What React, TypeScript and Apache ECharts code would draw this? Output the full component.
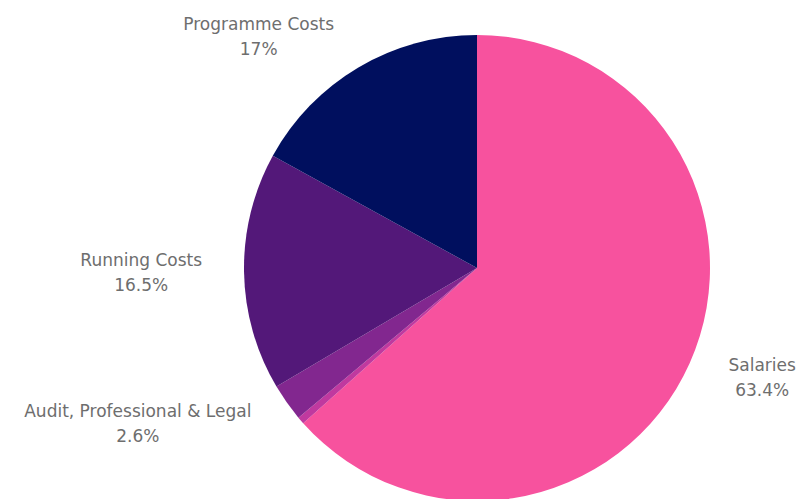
import React, { useEffect, useRef } from "react";
import * as echarts from "echarts";

const categories = ["Salaries", "Other", "Audit, Professional & Legal", "Running Costs", "Programme Costs"];
const values = [63.4, 0.5, 2.6, 16.5, 17];
const colors = ["#f7529e", "#c0399f", "#82278f", "#531879", "#000f5e"];
const showLabel = [true, false, true, true, true];

export default function App() {
  const ref = useRef<HTMLDivElement>(null);
  useEffect(() => {
    document.body.style.margin = "0";
    const chart = echarts.init(ref.current!, null, { renderer: "svg" });
    const font = "DejaVu Sans";
    chart.setOption({
      animation: false,
      backgroundColor: "#ffffff",
      series: [
        {
          type: "pie",
          center: [477, 268],
          radius: 233,
          startAngle: 90,
          clockwise: true,
          avoidLabelOverlap: true,
          itemStyle: { borderWidth: 0 },
          label: {
            show: true,
            position: "outside",
            overflow: "none",
            edgeDistance: 0,
            bleedMargin: 0,
            color: "#6e6e6e",
            fontFamily: font,
            fontSize: 17,
            lineHeight: 25,
            formatter: (p: any) => `{a|${p.name}}\n{a|${p.value}%}`,
            rich: { a: { align: "center", color: "#6e6e6e", fontFamily: font, fontSize: 17, lineHeight: 25 } },
          },
          labelLine: { show: false, length: 36, length2: 1 },
          data: categories.map((c, i) => ({
            name: c,
            value: values[i],
            itemStyle: { color: colors[i] },
            label: { show: showLabel[i] },
          })),
        },
      ],
    });
    return () => chart.dispose();
  }, []);
  return <div ref={ref} style={{ width: 797, height: 499 }} />;
}
